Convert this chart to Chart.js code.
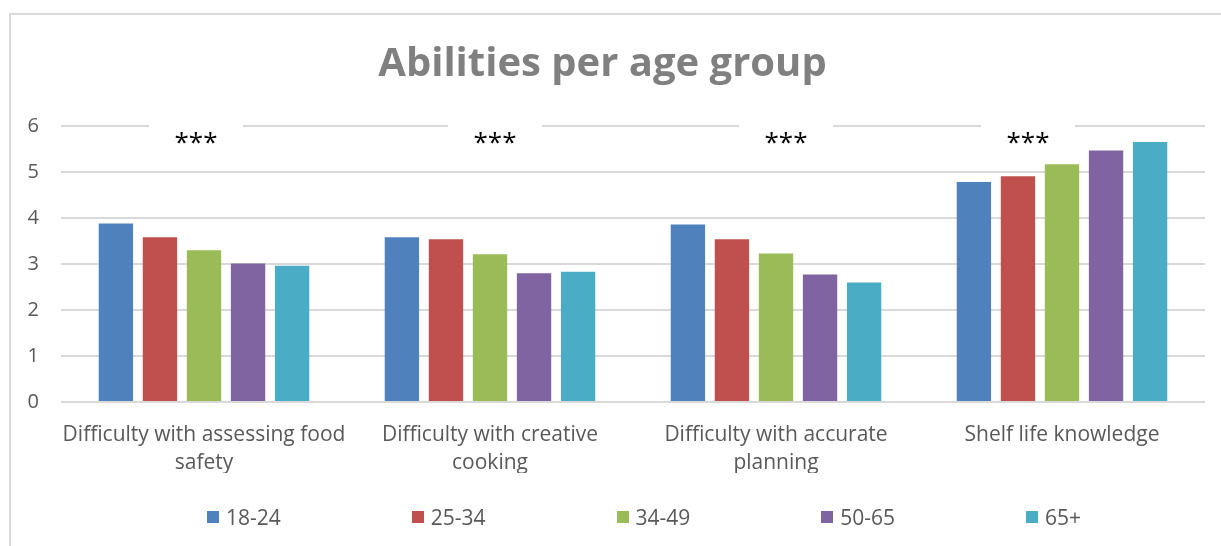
<!DOCTYPE html>
<html lang="en">
<head>
  <meta charset="UTF-8">
  <title>Abilities per age group</title>
  <script src="https://cdn.jsdelivr.net/npm/chart.js"></script>
  <style>
    body { margin: 0; background: #fff; font-family: "Open Sans", sans-serif; }
    .wrap { position: relative; width: 1221px; height: 546px; overflow: hidden; }
    .frame { position: absolute; left: 9px; top: 13px; right: -5px; bottom: -5px; border-top: 2px solid #d9d9d9; border-left: 2px solid #d9d9d9; }
    canvas { position: absolute; left: 0; top: 0; }
    .legend { position: absolute; left: 207px; top: 503px; display: flex; }
    .legend-item { width: 204.75px; display: flex; align-items: center; height: 28px; font-size: 21px; color: #595959; }
    .legend-item span.box { width: 12px; height: 12px; margin-right: 7px; display: inline-block; }
  </style>
</head>
<body>

  <div class="wrap">
    <div class="frame"></div>
    <canvas id="abilityChart" width="1221" height="546"></canvas>
    <div class="legend" id="legend"></div>
  </div>

  <script>
    const categories = [
      ['Difficulty with assessing food', 'safety'],
      ['Difficulty with creative', 'cooking'],
      ['Difficulty with accurate', 'planning'],
      'Shelf life knowledge'
    ];
    const ageGroups = ['18-24', '25-34', '34-49', '50-65', '65+'];
    const age18to24 = [3.88, 3.58, 3.86, 4.78];
    const age25to34 = [3.58, 3.54, 3.54, 4.91];
    const age34to49 = [3.30, 3.21, 3.23, 5.17];
    const age50to65 = [3.01, 2.80, 2.77, 5.47];
    const age65plus = [2.96, 2.83, 2.60, 5.65];
    const significance = ['***', '***', '***', '***'];
    const yTicks = [0, 1, 2, 3, 4, 5, 6];

    const colors = ['#4f81bd', '#c0504d', '#9bbb59', '#8064a2', '#4bacc6'];
    // hand-placed text boxes in the original, pixel nudges from category centre
    const starNudge = [-8, 5, 10, -34];

    const seriesValues = [age18to24, age25to34, age34to49, age50to65, age65plus];

    Chart.defaults.font.family = '"Open Sans", sans-serif';
    Chart.defaults.color = '#595959';

    const starsPlugin = {
      id: 'stars',
      beforeDatasetsDraw(chart) {
        const ctx = chart.ctx;
        const x = chart.scales.x;
        const y = chart.scales.y;
        const yTop = y.getPixelForValue(yTicks[yTicks.length - 1]);
        ctx.save();
        significance.forEach((txt, i) => {
          const cx = x.getPixelForValue(i) + starNudge[i];
          ctx.fillStyle = '#ffffff';
          ctx.fillRect(cx - 47, yTop - 8, 94, 24);
          ctx.fillStyle = '#000000';
          ctx.font = '26px "Open Sans"';
          ctx.textAlign = 'center';
          ctx.textBaseline = 'alphabetic';
          ctx.fillText(txt, cx, yTop + 25);
        });
        ctx.restore();
      }
    };

    new Chart(document.getElementById('abilityChart'), {
      type: 'bar',
      data: {
        labels: categories,
        datasets: ageGroups.map((name, i) => ({
          label: name,
          data: seriesValues[i],
          backgroundColor: colors[i],
          borderWidth: 0,
          categoryPercentage: 0.77,
          barPercentage: 0.78
        }))
      },
      options: {
        responsive: false,
        animation: false,
        layout: { padding: { left: 0, right: 16, top: 0, bottom: 73 } },
        plugins: {
          legend: { display: false },
          tooltip: { enabled: false },
          title: {
            display: true,
            text: 'Abilities per age group',
            color: '#808080',
            font: { size: 40, weight: 'bold' },
            padding: { top: 41, bottom: 37 }
          }
        },
        scales: {
          x: {
            grid: { display: false },
            border: { display: false },
            ticks: {
              font: { size: 21, lineHeight: 1.333 },
              color: '#595959',
              padding: 11,
              maxRotation: 0,
              autoSkip: false
            },
            afterFit(scale) { scale.height = 71; }
          },
          y: {
            min: 0,
            max: 6,
            border: { display: false },
            grid: { color: '#d9d9d9', lineWidth: 2, drawTicks: false },
            ticks: {
              stepSize: 1,
              font: { size: 20 },
              color: '#595959',
              padding: 22
            },
            afterFit(scale) { scale.width = 61; }
          }
        }
      },
      plugins: [starsPlugin]
    });

    // legend laid out like the original: evenly spread entries
    const legendEl = document.getElementById('legend');
    ageGroups.forEach((name, i) => {
      const item = document.createElement('div');
      item.className = 'legend-item';
      item.innerHTML = '<span class="box" style="background:' + colors[i] + '"></span>' + name;
      legendEl.appendChild(item);
    });
  </script>

</body>
</html>
